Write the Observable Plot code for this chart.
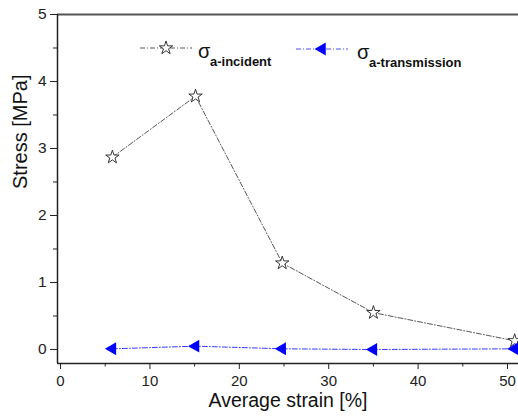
<!DOCTYPE html>
<html><head><meta charset="utf-8">
<script src="https://cdn.jsdelivr.net/npm/d3@7"></script>
<script src="https://cdn.jsdelivr.net/npm/@observablehq/plot@0.6"></script>
<style>body{margin:0;background:#fff} svg{display:block}</style>
</head><body><div id="chart"></div>
<script>
const strain = [5.8, 15.1, 24.8, 35.0, 50.8];
const incident = [2.87, 3.78, 1.29, 0.55, 0.13];
const transmission = [0.01, 0.05, 0.01, 0.0, 0.01];
const xTicks = [0, 10, 20, 30, 40, 50];
const xMinor = [5, 15, 25, 35, 45];
const yTicks = [0, 1, 2, 3, 4, 5];
const yMinor = [0.5, 1.5, 2.5, 3.5, 4.5];
const seriesSymbol = "σ";
const seriesSub = ["a-incident", "a-transmission"];
const xTitle = "Average strain [%]";
const yTitle = "Stress [MPa]";

const incData = strain.map((x, i) => ({x, y: incident[i]}));
const trData = strain.map((x, i) => ({x, y: transmission[i]}));

const FONT = "Arial, 'Liberation Sans', sans-serif";
const incColor = "#444";
const trLine = "#3a3aff";
const trFill = "#0000ff";
const dashInc = "5,2,1,2";
const dashTr = "5,2,1,2";

const xDomain = [-0.34, 51.23];
const yDomain = [-0.209, 5];

function legend(index, scales, values, dim) {
  const g = d3.create("svg:g").attr("font-family", FONT).attr("text-anchor", "start");
  const x0 = dim.marginLeft, y0 = dim.marginTop;
  const items = [
    {cx: 109, cy: 34, sx: 32, sub: seriesSub[0], color: incColor, dash: dashInc, kind: "star"},
    {cx: 265, cy: 35, sx: 35, sub: seriesSub[1], color: trLine, dash: dashTr, kind: "tri"}
  ];
  for (const it of items) {
    const cx = x0 + it.cx, cy = y0 + it.cy;
    g.append("line").attr("x1", cx - 26).attr("x2", cx + 26).attr("y1", cy).attr("y2", cy)
      .attr("stroke", it.color).attr("stroke-width", 0.9).attr("stroke-dasharray", it.dash);
    if (it.kind === "star") {
      g.append("path").attr("d", d3.symbol(d3.symbolStar, Math.PI * 4.2 * 4.2)())
        .attr("transform", `translate(${cx},${cy})`).attr("fill", "white").attr("stroke", "#222").attr("stroke-width", 0.9);
    } else {
      g.append("path").attr("d", d3.symbol(d3.symbolTriangle, Math.PI * 4.8 * 4.8)())
        .attr("transform", `translate(${cx},${cy}) rotate(-90)`).attr("fill", trFill);
    }
    g.append("text").attr("x", cx + it.sx).attr("y", cy + 10).attr("font-size", 20).attr("fill", "#111").text(seriesSymbol);
    g.append("text").attr("x", cx + it.sx + 12).attr("y", cy + 18).attr("font-size", 13).attr("font-weight", "bold").attr("fill", "#111").text(it.sub);
  }
  return g.node();
}

const chart = Plot.plot({
  width: 518,
  height: 416,
  marginLeft: 57,
  marginRight: 0,
  marginTop: 14,
  marginBottom: 53,
  style: {fontFamily: FONT, background: "white", color: "#222"},
  x: {domain: xDomain},
  y: {domain: yDomain},
  marks: [
    Plot.ruleY([yDomain[1]], {stroke: "#555", strokeWidth: 2}),
    Plot.ruleX([xDomain[0]], {stroke: "#222", strokeWidth: 1.5}),
    Plot.ruleY([yDomain[0]], {stroke: "#222", strokeWidth: 1.5}),
    Plot.axisX({ticks: xTicks, tickSize: 6, tickPadding: 6, fontSize: 15, tickFormat: d3.format("d"), label: null, stroke: "#222"}),
    Plot.axisX({ticks: xMinor, tickSize: 3.5, text: null, label: null, stroke: "#222"}),
    Plot.axisY({ticks: yTicks, tickSize: 7, tickPadding: 4, fontSize: 15.5, tickFormat: d3.format("d"), label: null, stroke: "#222"}),
    Plot.axisY({ticks: yMinor, tickSize: 4, text: null, label: null, stroke: "#222"}),
    Plot.text([xTitle], {frameAnchor: "bottom", dy: 43, fontSize: 19.5, fill: "#111"}),
    Plot.text([yTitle], {frameAnchor: "left", dx: -37, rotate: -90, fontSize: 20, fill: "#111"}),
    Plot.line(incData, {x: "x", y: "y", stroke: incColor, strokeWidth: 0.9, strokeDasharray: dashInc}),
    Plot.line(trData, {x: "x", y: "y", stroke: trLine, strokeWidth: 1, strokeDasharray: dashTr}),
    Plot.dot(incData, {x: "x", y: "y", symbol: "star", r: 4.2, fill: "white", stroke: "#222", strokeWidth: 0.9}),
    Plot.dot(trData, {x: "x", y: "y", symbol: "triangle", r: 4.8, rotate: -90, fill: trFill, stroke: "none"}),
    legend
  ]
});
document.getElementById("chart").append(chart);
</script>
</body></html>
